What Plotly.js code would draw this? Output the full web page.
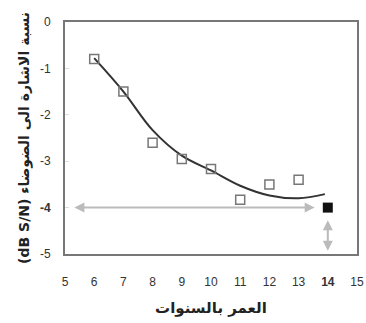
<!DOCTYPE html>
<html>
<head>
<meta charset="utf-8">
<script src="https://cdn.plot.ly/plotly-3.0.1.min.js"></script>
<style>html,body{margin:0;padding:0;background:#fff;}#chart{width:366px;height:323px;}</style>
</head>
<body>
<div id="chart"></div>
<script>
// measured points (hollow squares)
const ageYears = [6, 7, 8, 9, 10, 11, 12, 13];
const snrDb = [-0.8, -1.5, -2.6, -2.95, -3.17, -3.83, -3.5, -3.4];
// trend curve
const trendAge = [6, 7, 8, 9, 10, 11, 12, 13, 13.9];
const trendDb = [-0.78, -1.5, -2.33, -2.88, -3.2, -3.53, -3.74, -3.8, -3.71];
// highlighted point
const highlightAge = [14];
const highlightDb = [-4];
// arrows
const hArrow = {from: 5.27, to: 13.55, at: -4};
const vArrow = {at: 14, from: -4.24, to: -4.93};
// ticks
const xTicks = [5, 6, 7, 8, 9, 10, 11, 12, 13, 14, 15];
const xTickText = ['5', '6', '7', '8', '9', '10', '11', '12', '13', '<b>14</b>', '15'];
const yTicks = [0, -1, -2, -3, -4, -5];
const yTickText = ['0', '-1', '-2', '-3', '<b>-4</b>', '-5'];
const xTitle = '<b>العمر بالسنوات</b>';
const yTitle = '<b>(dB S/N) نسبة الاشارة الى الضوضاء</b>';

const font = 'Liberation Sans, Arial, sans-serif';

const traces = [
  {x: trendAge, y: trendDb, mode: 'lines', line: {color: '#333', width: 2, shape: 'spline', smoothing: 1}, hoverinfo: 'skip'},
  {x: ageYears, y: snrDb, mode: 'markers', marker: {symbol: 'square-open', size: 9, color: '#777', line: {width: 1.5, color: '#777'}}},
  {x: highlightAge, y: highlightDb, mode: 'markers', marker: {symbol: 'square', size: 10, color: '#111'}}
];

const layout = {
  width: 366, height: 323,
  margin: {l: 65, r: 9, t: 22, b: 69},
  paper_bgcolor: '#fff', plot_bgcolor: '#fff',
  showlegend: false,
  font: {family: font, color: '#333', size: 11},
  xaxis: {
    range: [5, 15], tickvals: xTicks, ticktext: xTickText,
    showgrid: false, zeroline: false, showline: true, mirror: true,
    linecolor: '#777', linewidth: 2, ticks: '', ticklabelstandoff: 16,
    tickfont: {family: font, size: 12, color: '#333'},
    title: {text: xTitle, font: {family: 'DejaVu Sans, Noto Sans', size: 15, color: '#222'}, standoff: 14}
  },
  yaxis: {
    range: [-5, 0], tickvals: yTicks, ticktext: yTickText,
    showgrid: false, zeroline: false, showline: true, mirror: true,
    linecolor: '#777', linewidth: 2, ticks: 'inside', ticklen: 4, tickcolor: '#ddd', ticklabelstandoff: 10,
    tickfont: {family: font, size: 12, color: '#333'},
    title: {text: yTitle, font: {family: 'DejaVu Sans, Noto Sans', size: 14, color: '#222'}, standoff: 7}
  },
  annotations: [
    {x: hArrow.to, y: hArrow.at, ax: hArrow.from, ay: hArrow.at, xref: 'x', yref: 'y', axref: 'x', ayref: 'y',
     text: '', showarrow: true, arrowhead: 2, startarrowhead: 2, arrowside: 'end+start', arrowsize: 1, arrowwidth: 2, arrowcolor: '#bbb'},
    {x: vArrow.at, y: vArrow.to, ax: vArrow.at, ay: vArrow.from, xref: 'x', yref: 'y', axref: 'x', ayref: 'y',
     text: '', showarrow: true, arrowhead: 2, startarrowhead: 2, arrowside: 'end+start', arrowsize: 1, arrowwidth: 2, arrowcolor: '#bbb'}
  ]
};

Plotly.newPlot('chart', traces, layout, {displayModeBar: false, staticPlot: true});
</script>
</body>
</html>
